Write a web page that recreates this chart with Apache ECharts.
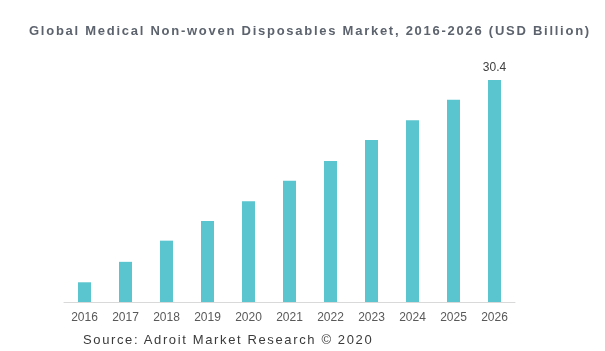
<!DOCTYPE html>
<html>
<head>
<meta charset="utf-8">
<script src="https://cdn.jsdelivr.net/npm/echarts@6/dist/echarts.min.js"></script>
<style>
  body { margin: 0; background: #fff; }
  #wrap { position: relative; width: 605px; height: 351px; }
  #divBar { position: absolute; left: 0; top: 0; width: 605px; height: 351px; }
  .txt { position: absolute; font-family: "Liberation Sans", Arial, sans-serif; white-space: nowrap; }
  #title { left: 29px; top: 23px; font-size: 13px; font-weight: bold; color: #5c636d; letter-spacing: 1.74px; }
  #source { left: 83px; top: 332px; font-size: 13px; color: #3a3a3a; letter-spacing: 1.63px; }
</style>
</head>
<body>
<div id="wrap">
  <div id="divBar"></div>
  <div id="title" class="txt">Global Medical Non-woven Disposables Market, 2016-2026 (USD Billion)</div>
  <div id="source" class="txt">Source: Adroit Market Research © 2020</div>
</div>
<script>
var years = ['2016', '2017', '2018', '2019', '2020', '2021', '2022', '2023', '2024', '2025', '2026'];
var values = [2.7, 5.5, 8.4, 11.1, 13.8, 16.6, 19.3, 22.2, 24.9, 27.7, 30.4];
var labelled = ['2026'];

var barChart = echarts.init(document.getElementById('divBar'));
var barOption = {
    animation: false,
    grid: {
      left: 64,
      right: 90,
      top: 80,
      bottom: 49
    },
    xAxis: {
      type: 'category',
      data: years,
      axisLine: { lineStyle: { color: '#d9d9d9', width: 1 } },
      axisTick: { show: false },
      axisLabel: {
        color: '#595959',
        fontSize: 12,
        fontFamily: 'Liberation Sans',
        margin: 10
      }
    },
    yAxis: {
      type: 'value',
      min: 0,
      max: 30.4,
      show: false,
      splitLine: { show: false }
    },
    series: [
      {
        type: 'bar',
        barWidth: 13,
        itemStyle: { color: '#5bc5cf' },
        label: {
          show: true,
          position: 'top',
          distance: 6,
          color: '#404040',
          fontSize: 12,
          fontFamily: 'Liberation Sans',
          formatter: function (p) {
            return labelled.indexOf(p.name) >= 0 ? p.value.toFixed(1) : '';
          }
        },
        data: values
      }
    ]
};
barChart.setOption(barOption);
</script>
</body>
</html>
